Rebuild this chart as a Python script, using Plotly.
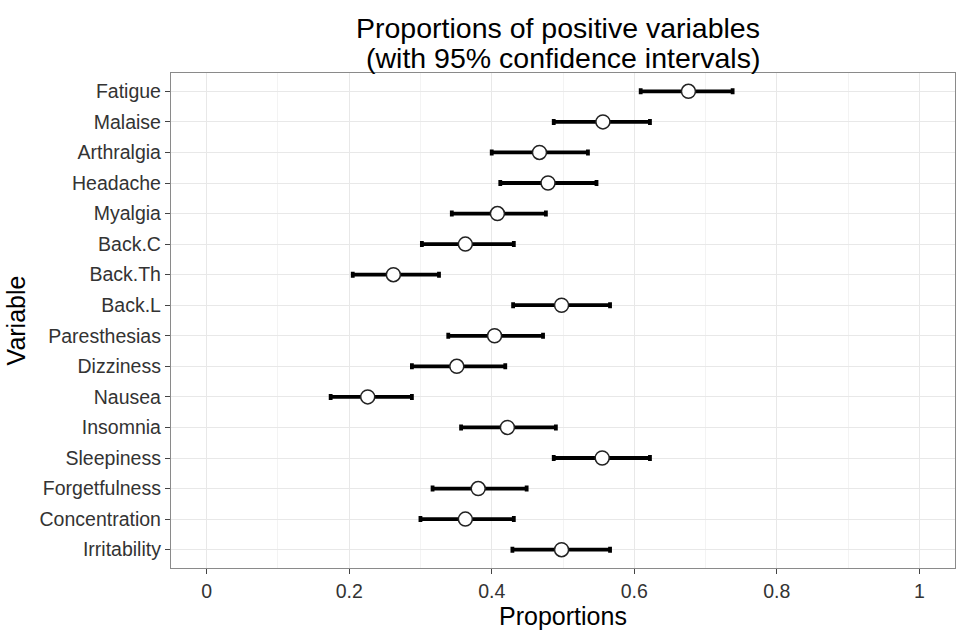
import plotly.graph_objects as go

variables = ["Fatigue", "Malaise", "Arthralgia", "Headache", "Myalgia", "Back.C",
             "Back.Th", "Back.L", "Paresthesias", "Dizziness", "Nausea", "Insomnia",
             "Sleepiness", "Forgetfulness", "Concentration", "Irritability"]
proportion = [0.676, 0.556, 0.467, 0.479, 0.408, 0.363, 0.262, 0.498, 0.404, 0.351,
              0.226, 0.422, 0.555, 0.381, 0.363, 0.498]
lower = [0.609, 0.487, 0.400, 0.412, 0.344, 0.302, 0.205, 0.430, 0.339, 0.288,
         0.174, 0.357, 0.487, 0.317, 0.300, 0.429]
upper = [0.738, 0.622, 0.535, 0.547, 0.476, 0.431, 0.326, 0.566, 0.472, 0.419,
         0.288, 0.490, 0.622, 0.449, 0.431, 0.566]

x_ticks = [0, 0.2, 0.4, 0.6, 0.8, 1]
x_ticklabels = ["0", "0.2", "0.4", "0.6", "0.8", "1"]

err_plus = [u - p for u, p in zip(upper, proportion)]
err_minus = [p - l for p, l in zip(proportion, lower)]

font_family = "Liberation Sans, Arial, sans-serif"

fig = go.Figure()
fig.add_trace(go.Scatter(
    x=proportion, y=variables, mode="markers",
    marker=dict(size=14, color="white", line=dict(color="#222222", width=1.5)),
    error_x=dict(type="data", symmetric=False, array=err_plus, arrayminus=err_minus,
                 color="black", thickness=3.8, width=3),
    showlegend=False,
))

L, R, T, B = 171, 5, 73, 53
W, H = 961, 630
pw = W - L - R
ph = H - T - B

fig.update_layout(
    width=W, height=H,
    margin=dict(l=L, r=R, t=T, b=B),
    paper_bgcolor="white", plot_bgcolor="white",
    font=dict(family=font_family, color="#333333"),
    xaxis=dict(
        range=[-0.05, 1.05], tickvals=x_ticks, ticktext=x_ticklabels,
        showgrid=True, gridcolor="#e8e8e8", gridwidth=1,
        minor=dict(tickvals=[0.1, 0.3, 0.5, 0.7, 0.9], showgrid=True,
                   gridcolor="#f3f3f3", gridwidth=1, ticks=""),
        ticks="outside", ticklen=5, tickcolor="#444444", tickwidth=1.2,
        tickfont=dict(size=19.5, color="#333333"),
        showline=True, linecolor="#8a8a8a", linewidth=1.3, mirror=True,
        zeroline=False,
        title=dict(text="Proportions", font=dict(size=25, color="black"), standoff=6),
    ),
    yaxis=dict(
        type="category", categoryorder="array", categoryarray=variables,
        range=[15.6, -0.6],
        showgrid=True, gridcolor="#e8e8e8", gridwidth=1,
        ticks="outside", ticklen=5, tickcolor="#444444", tickwidth=1.2,
        tickfont=dict(size=19.5, color="#333333"),
        showline=True, linecolor="#8a8a8a", linewidth=1.3, mirror=True,
        zeroline=False,
        title=dict(text="Variable", font=dict(size=25, color="black"), standoff=6),
    ),
    annotations=[
        dict(text="Proportions of positive variables", xref="paper", yref="paper",
             x=(558 - L) / pw, y=1 + (T - 27) / ph, xanchor="center", yanchor="middle",
             showarrow=False, font=dict(size=28.5, color="black", family=font_family)),
        dict(text="(with 95% confidence intervals)", xref="paper", yref="paper",
             x=(563 - L) / pw, y=1 + (T - 57.5) / ph, xanchor="center", yanchor="middle",
             showarrow=False, font=dict(size=28.5, color="black", family=font_family)),
    ],
)

fig.write_html("out.html")
